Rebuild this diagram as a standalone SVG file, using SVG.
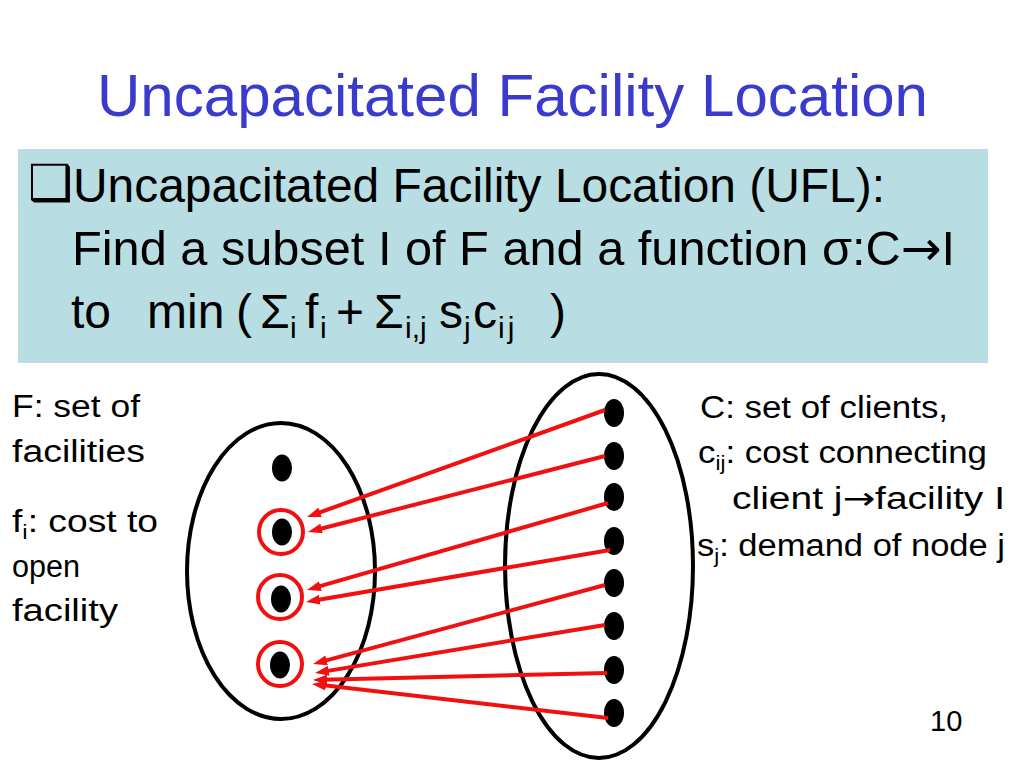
<svg xmlns="http://www.w3.org/2000/svg" width="1024" height="768" viewBox="0 0 1024 768">
<defs>
<style>
text{font-family:"Liberation Sans","DejaVu Sans",sans-serif;fill:#000}
.title{font-size:60px;fill:#3a3acc}
.box{font-size:48px}
.lbl{font-size:31px}
.sub{font-size:20px}
.bsub{font-size:30px}
.arr{font-family:"DejaVu Sans",sans-serif}
.set{fill:none;stroke:#000;stroke-width:4}
.dot{fill:#000}
.ring{fill:none;stroke:#f01010;stroke-width:4}
.conn{fill:none;stroke:#f01010;stroke-width:4;marker-end:url(#ah)}
</style>
<marker id="ah" markerUnits="userSpaceOnUse" markerWidth="14" markerHeight="10" refX="4" refY="5" orient="auto">
<path d="M0,0 L14,5 L0,10 z" fill="#f01010"/>
</marker>
</defs>
<rect width="1024" height="768" fill="#fff"/>
<text class="title" x="97" y="116" textLength="831" lengthAdjust="spacingAndGlyphs">Uncapacitated Facility Location</text>
<g id="definition-box">
<rect x="18" y="149" width="970" height="214" fill="#b8dde2"/>
<text x="28" y="200" style="font-family:'DejaVu Sans',sans-serif;font-size:50px">❑</text>
<text class="box" x="73" y="202" textLength="812" lengthAdjust="spacingAndGlyphs">Uncapacitated Facility Location (UFL):</text>
<text class="box" x="72" y="265" textLength="883" lengthAdjust="spacingAndGlyphs">Find a subset I of F and a function σ:C<tspan class="arr">→</tspan>I</text>
<text class="box" y="328"><tspan x="71">to</tspan><tspan x="147">min</tspan><tspan x="236">(</tspan><tspan x="260">Σ</tspan><tspan class="bsub" x="290" y="338">i</tspan><tspan x="305" y="328">f</tspan><tspan class="bsub" x="320" y="338">i</tspan><tspan x="336" y="328">+</tspan><tspan x="374">Σ</tspan><tspan class="bsub" x="405" y="338">i,j</tspan><tspan x="439" y="328">s</tspan><tspan class="bsub" x="464" y="338">j</tspan><tspan x="473" y="328">c</tspan><tspan class="bsub" x="498" y="338" letter-spacing="3">ij</tspan><tspan x="550" y="328">)</tspan></text>
</g>
<g id="facility-labels">
<text class="lbl" x="12" y="417" textLength="128" lengthAdjust="spacingAndGlyphs">F: set of</text>
<text class="lbl" x="12" y="462" textLength="133" lengthAdjust="spacingAndGlyphs">facilities</text>
<text class="lbl" x="12" y="532" textLength="146" lengthAdjust="spacingAndGlyphs">f<tspan class="sub" dy="7">i</tspan><tspan dy="-7">: cost to</tspan></text>
<text class="lbl" x="12" y="577" textLength="68" lengthAdjust="spacingAndGlyphs">open</text>
<text class="lbl" x="12" y="621" textLength="106" lengthAdjust="spacingAndGlyphs">facility</text>
</g>
<g id="client-labels">
<text class="lbl" x="700" y="418" textLength="248" lengthAdjust="spacingAndGlyphs">C: set of clients,</text>
<text class="lbl" x="698" y="463" textLength="289" lengthAdjust="spacingAndGlyphs">c<tspan class="sub" dy="7">ij</tspan><tspan dy="-7">: cost connecting</tspan></text>
<text class="lbl" x="732" y="509" textLength="273" lengthAdjust="spacingAndGlyphs">client j<tspan class="arr">→</tspan>facility I</text>
<text class="lbl" x="697" y="556" textLength="308" lengthAdjust="spacingAndGlyphs">s<tspan class="sub" dy="7">j</tspan><tspan dy="-7">: demand of node j</tspan></text>
</g>
<g id="facility-set">
<ellipse class="set" cx="281" cy="571" rx="94" ry="148"/>
<ellipse class="dot" cx="282" cy="468" rx="10" ry="13.5"/>
<g id="facility-2"><circle class="ring" cx="281" cy="532" r="22"/><ellipse class="dot" cx="282" cy="532" rx="10" ry="13.5"/></g>
<g id="facility-3"><circle class="ring" cx="280" cy="597" r="22"/><ellipse class="dot" cx="281" cy="599" rx="10" ry="13.5"/></g>
<g id="facility-4"><circle class="ring" cx="280" cy="664" r="22"/><ellipse class="dot" cx="280" cy="665" rx="10" ry="13.5"/></g>
</g>
<g id="client-set">
<ellipse class="set" cx="599" cy="566" rx="94" ry="192"/>
<ellipse class="dot" cx="614" cy="413" rx="10" ry="14"/>
<ellipse class="dot" cx="614" cy="456" rx="10" ry="14"/>
<ellipse class="dot" cx="614" cy="497" rx="10" ry="14"/>
<ellipse class="dot" cx="614" cy="541" rx="10" ry="14"/>
<ellipse class="dot" cx="614" cy="583" rx="10" ry="14"/>
<ellipse class="dot" cx="614" cy="626" rx="10" ry="14"/>
<ellipse class="dot" cx="614" cy="670" rx="10" ry="14"/>
<ellipse class="dot" cx="614" cy="713" rx="10" ry="14"/>
</g>
<g id="connectors">
<line class="conn" x1="605" y1="410" x2="316.4" y2="513.6"/>
<line class="conn" x1="605" y1="456" x2="317.7" y2="529.5"/>
<line class="conn" x1="608" y1="503" x2="316.6" y2="587.2"/>
<line class="conn" x1="610" y1="550" x2="315.9" y2="600.3"/>
<line class="conn" x1="605" y1="585" x2="322.7" y2="661.4"/>
<line class="conn" x1="605" y1="625" x2="324.9" y2="671.4"/>
<line class="conn" x1="607" y1="673" x2="323" y2="679.8"/>
<line class="conn" x1="608" y1="718" x2="321.9" y2="685.1"/>
</g>
<text class="lbl" x="930" y="731" style="font-size:29px">10</text>
</svg>
